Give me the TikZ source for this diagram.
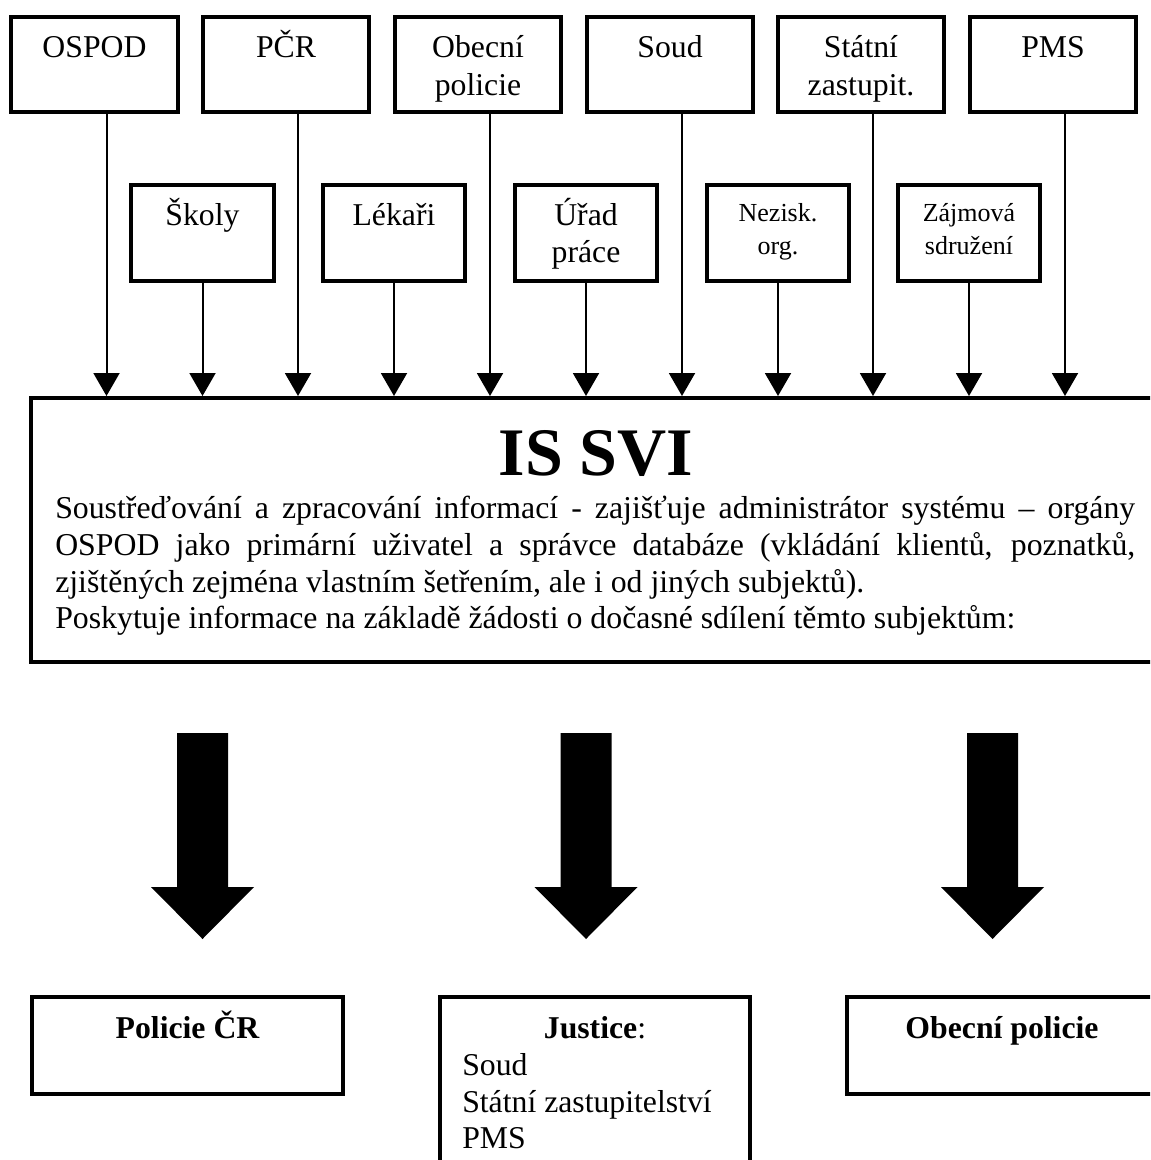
\documentclass[tikz,border=0pt]{standalone}
\usepackage{fontspec}
\setmainfont{Liberation Serif}
\usetikzlibrary{arrows.meta}
\begin{document}
\begin{tikzpicture}[x=0.75pt,y=-0.75pt,
  box/.style={draw, line width=3.2pt, inner sep=0pt, rectangle},
  topbox/.style={box, minimum width=125pt, minimum height=71.25pt},
  midbox/.style={box, minimum width=107pt, minimum height=72pt},
  botbox/.style={box, minimum width=233pt, minimum height=72.5pt},
  lbl/.style={anchor=base, inner sep=0pt, font=\fontsize{23.8}{28}\selectfont},
  slbl/.style={anchor=base, inner sep=0pt, font=\fontsize{19.5}{23}\selectfont},
  bodyline/.style={anchor=base west, inner sep=0pt, font=\fontsize{23.85}{28}\selectfont},
  conn/.style={line width=1.5pt, -{Triangle[length=17.25pt, width=19.5pt]}},
  bigarrow/.style={fill=black},
]
\useasboundingbox (0,0) rectangle (1150,1160);
\clip (0,0) rectangle (1150,1160);

% top row boxes
\node[topbox] (ospod) at (94.5,64.5) {};
\node[topbox] (pcr)   at (286,64.5) {};
\node[topbox] (obp)   at (478,64.5) {};
\node[topbox] (soud)  at (670,64.5) {};
\node[topbox] (sz)    at (861,64.5) {};
\node[topbox] (pms)   at (1053,64.5) {};

\node[lbl] (ospodT) at (94.5,57) {OSPOD};
\node[lbl] (pcrT)   at (286,57) {PČR};
\node[lbl] (obpT1)  at (478,57) {Obecní};
\node[lbl] (obpT2)  at (478,95) {policie};
\node[lbl] (soudT)  at (670,57) {Soud};
\node[lbl] (szT1)   at (861,57) {Státní};
\node[lbl] (szT2)   at (861,95) {zastupit.};
\node[lbl] (pmsT)   at (1053,57) {PMS};

% middle row boxes
\node[midbox] (skoly) at (202.5,233) {};
\node[midbox] (lek)   at (394,233) {};
\node[midbox] (urad)  at (586,233) {};
\node[midbox] (nez)   at (778,233) {};
\node[midbox] (zaj)   at (969,233) {};

\node[lbl]  (skolyT) at (202.5,225) {Školy};
\node[lbl]  (lekT)   at (394,225) {Lékaři};
\node[lbl]  (uradT1) at (586,225) {Úřad};
\node[lbl]  (uradT2) at (586,262) {práce};
\node[slbl] (nezT1)  at (778,221) {Nezisk.};
\node[slbl] (nezT2)  at (778,254) {org.};
\node[slbl] (zajT1)  at (969,221) {Zájmová};
\node[slbl] (zajT2)  at (969,254) {sdružení};

% main box
\node[box, line width=3pt, minimum width=843.75pt, minimum height=198pt] (main) at (593.5,530) {};
\node[anchor=base, inner sep=0pt, font=\fontsize{51}{56}\selectfont\bfseries] (title) at (596,475) {IS SVI};
\node[bodyline] (l1) at (55,518) {\makebox[810pt][s]{Soustřeďování a zpracování informací - zajišťuje administrátor systému – orgány}};
\node[bodyline] (l2) at (55,555) {\makebox[810pt][s]{OSPOD jako primární uživatel a správce databáze (vkládání klientů, poznatků,}};
\node[bodyline] (l3) at (55,592) {zjištěných zejména vlastním šetřením, ale i od jiných subjektů).};
\node[bodyline] (l4) at (55,628) {Poskytuje informace na základě žádosti o dočasné sdílení těmto subjektům:};

% connectors
\foreach \n in {ospod,pcr,obp,soud,sz,pms}
  \draw[conn] ([xshift=9pt]\n.south) -- ([xshift=9pt]\n.south |- main.north);
\foreach \n in {skoly,lek,urad,nez,zaj}
  \draw[conn] (\n.south) -- (\n.south |- main.north);

% big arrows
\foreach \c in {202.5,586,992.5}
  \fill[bigarrow] (\c-25.5,733) -- (\c+25.5,733) -- (\c+25.5,887) -- (\c+51.5,887)
     -- (\c,939) -- (\c-51.5,887) -- (\c-25.5,887) -- cycle;

% bottom boxes
\node[botbox] (pol) at (187.5,1045.5) {};
\node[box, minimum width=233pt, minimum height=152pt] (just) at (595,1098.5) {};
\node[botbox] (obpol) at (1002,1045.5) {};

\node[lbl, font=\fontsize{23.8}{28}\selectfont\bfseries] (polT) at (187.5,1038) {Policie ČR};
\node[lbl] (justT) at (595,1038) {\textbf{Justice}:};
\node[bodyline, font=\fontsize{23.8}{28}\selectfont] (j1) at (462,1075) {Soud};
\node[bodyline, font=\fontsize{23.8}{28}\selectfont] (j2) at (462,1112) {Státní zastupitelství};
\node[bodyline, font=\fontsize{23.8}{28}\selectfont] (j3) at (462,1148) {PMS};
\node[lbl, font=\fontsize{23.8}{28}\selectfont\bfseries] (obpolT) at (1002,1038) {Obecní policie};
\end{tikzpicture}
\end{document}
